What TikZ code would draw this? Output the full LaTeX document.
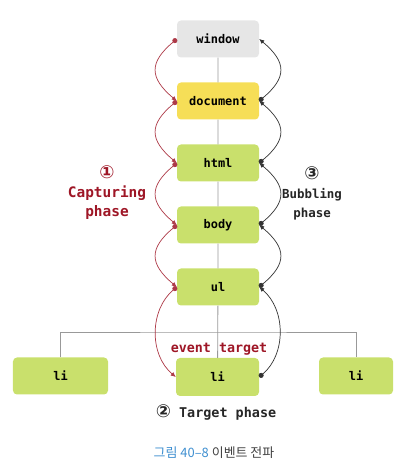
\documentclass[tikz,border=0pt]{standalone}
\usepackage{fontspec}
\setmonofont{DejaVu Sans Mono}
\newfontfamily\kofont{Noto Sans CJK KR}
\newfontfamily\circfont{DejaVu Sans}
\usetikzlibrary{arrows.meta}
\definecolor{capred}{HTML}{9E1626}
\definecolor{winfill}{HTML}{E6E6E6}
\definecolor{docfill}{HTML}{F6DE57}
\definecolor{elfill}{HTML}{C9E06C}
\definecolor{capblue}{HTML}{3F8FD0}
\newcommand{\circnum}[1]{{\circfont\fontsize{18}{18}\selectfont #1}}

\begin{document}
\begin{tikzpicture}[x=1bp,y=1bp,
  elem/.style={rounded corners=4bp,minimum width=82bp,minimum height=37bp,inner sep=0,font=\ttfamily\bfseries\fontsize{12}{14}\selectfont},
  tree/.style={draw=black!40,line width=0.8bp},
  capt/.style={capred!85,line width=0.7bp,{Circle[length=5bp]}-{Latex[length=5bp,width=4.5bp]},out=220,in=140,looseness=1.5},
  bubb/.style={black!80,line width=0.7bp,{Circle[length=5bp]}-{Latex[length=5bp,width=4.5bp]},out=40,in=-40,looseness=1.5}]
\useasboundingbox (0,0) rectangle (411,470);
\node[elem,fill=winfill] (window) at (218,431) {window};
\node[elem,fill=docfill] (document) at (218,369) {document};
\node[elem,fill=elfill] (html) at (218,307) {html};
\node[elem,fill=elfill] (body) at (218,245) {body};
\node[elem,fill=elfill] (ul) at (218,183) {ul};
\node[elem,fill=elfill,minimum width=95bp] (li1) at (60.5,94) {li};
\node[elem,fill=elfill,minimum width=83bp,minimum height=38bp] (li2) at (217.5,93) {li};
\node[elem,fill=elfill,minimum width=74bp] (li3) at (356,94) {li};
\coordinate (fork) at (218,138);
\draw[tree] (window) -- (document) (document) -- (html) (html) -- (body) (body) -- (ul) (ul) -- (li2);
\draw[tree] (li1.north) |- (fork) -| (li3.north);
\draw[capt] (window.west) to (document.west);
\draw[capt] (document.west) to (html.west);
\draw[capt] (html.west) to (body.west);
\draw[capt] (body.west) to (ul.west);
\draw[capt,looseness=1] (ul.west) to (li2.west);
\draw[bubb,looseness=1] (li2.east) to (ul.east);
\draw[bubb] (ul.east) to (body.east);
\draw[bubb] (body.east) to (html.east);
\draw[bubb] (html.east) to (document.east);
\draw[bubb] (document.east) to (window.east);
\node[text=capred,align=center,font=\ttfamily\bfseries\fontsize{14.5}{19}\selectfont] (capphase) at (107,277) {\circnum{①}\\Capturing\\phase};
\node[text=black!85,align=center,font=\ttfamily\bfseries\fontsize{12.5}{19}\selectfont] (bubphase) at (312,277) {\circnum{③}\\Bubbling\\phase};
\node[text=capred,font=\ttfamily\bfseries\fontsize{13.4}{16}\selectfont] (evtarget) at (219,121) {event target};
\node[text=black!85,font=\ttfamily\bfseries\fontsize{13.5}{16}\selectfont] (tgtphase) at (216,58) {\circnum{②} Target phase};
\node[text=black!75,font=\kofont\fontsize{13}{15}\selectfont] (caption) at (214,17) {\textcolor{capblue}{그림 40–8} 이벤트 전파};
\end{tikzpicture}
\end{document}
